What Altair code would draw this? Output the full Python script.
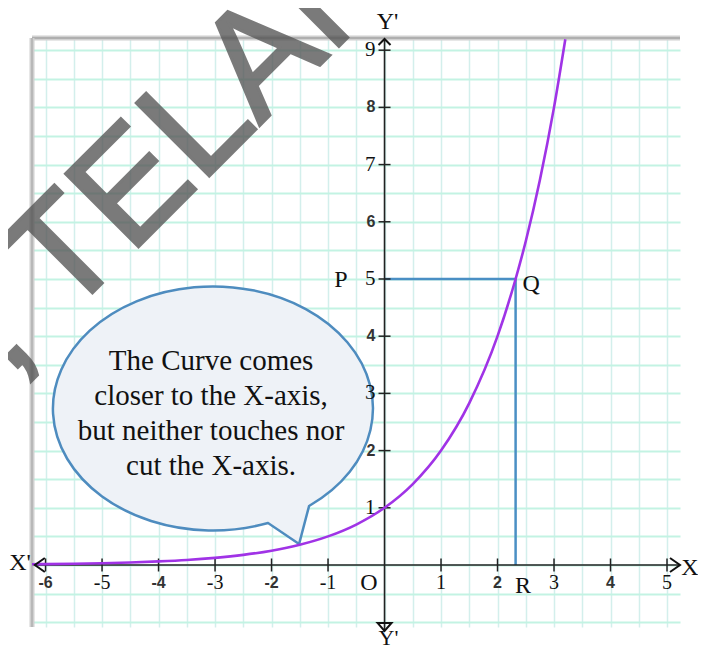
import altair as alt
import pandas as pd

# ---------------- data ----------------
X_DOMAIN = [-6.24, 5.23]
Y_DOMAIN = [-1.084, 9.213]

curve_x = [-6.24, -6, -5.5, -5, -4.5, -4, -3.5, -3, -2.5, -2, -1.5, -1, -0.5,
           0, 0.5, 1, 1.5, 2, 2.32, 2.5, 2.75, 3, 3.2]
curve_y = [0.013, 0.016, 0.022, 0.031, 0.044, 0.063, 0.088, 0.125, 0.177, 0.25,
           0.354, 0.5, 0.707, 1, 1.414, 2, 2.83, 4, 5, 5.66, 6.73, 8, 9.19]

grid_x = [-6, -5.5, -5, -4.5, -4, -3.5, -3, -2.5, -2, -1.5, -1, -0.5, 0, 0.5,
          1, 1.5, 2, 2.5, 3, 3.5, 4, 4.5, 5]
grid_y = [-1, -0.5, 0, 0.5, 1, 1.5, 2, 2.5, 3, 3.5, 4, 4.5, 5, 5.5, 6, 6.5,
          7, 7.5, 8, 8.5, 9]

x_ticks = [-6, -5, -4, -3, -2, -1, 1, 2, 3, 4, 5]
x_tick_labels = ["-6", "-5", "-4", "-3", "-2", "-1", "1", "2", "3", "4", "5"]
y_ticks = [1, 2, 3, 4, 5, 6, 7, 8, 9]
y_tick_labels = ["1", "2", "3", "4", "5", "6", "7", "8", "9"]

q_x = 2.32
q_y = 5
axis_x_ends = [-6.19, 5.23]
axis_y_ends = [-1.154, 9.196]

bubble_center = [-3.088, 2.71]
bubble_lines = ["The Curve comes", "closer to the X-axis,",
                "but neither touches nor", "cut the X-axis."]

watermark_text = ", TELANGANA"
watermark_at = [-6.667, 3.283]

# point labels: text, x, y, dx, dy, font size
point_labels = [
    ("P", 0, q_y, -43.5, 1, 24),
    ("Q", q_x, q_y, 15.5, 5, 24),
    ("R", q_x, 0, 7.5, 21, 24),
    ("O", 0, 0, -15.5, 18, 24),
    ("X'", X_DOMAIN[0], 0, -12, -2, 24),
    ("X", X_DOMAIN[1], 0, 10, 3, 24),
    ("Y'", 0, Y_DOMAIN[1], 3, -16, 24),
    ("Y'", 0, Y_DOMAIN[0], 4, 11, 22),
]

# ---------------- scales / shared encodings ----------------
xs = alt.Scale(domain=X_DOMAIN, nice=False, zero=False)
ys = alt.Scale(domain=Y_DOMAIN, nice=False, zero=False)
x_axis = alt.Axis(values=grid_x, grid=True, gridColor="#d3efec", gridWidth=1.5,
                  labels=False, ticks=False, domain=False, title=None)
y_axis = alt.Axis(values=grid_y, grid=True, gridColor="#c3f3e3", gridWidth=2,
                  labels=False, ticks=False, domain=False, title=None)


def X(f="x"):
    return alt.X(f"{f}:Q", scale=xs, axis=x_axis)


def Y(f="y"):
    return alt.Y(f"{f}:Q", scale=ys, axis=y_axis)


layers = []

# frame borders (top and left)
df_top = pd.DataFrame({"x": [X_DOMAIN[0]], "x2": [X_DOMAIN[1]], "y": [Y_DOMAIN[1]]})
df_left = pd.DataFrame({"x": [X_DOMAIN[0]], "y": [Y_DOMAIN[0]], "y2": [Y_DOMAIN[1]]})
layers.append(alt.Chart(df_top).mark_rule(color="#d0d0d0", strokeWidth=5).encode(
    x=X(), x2="x2:Q", y=Y()))
layers.append(alt.Chart(df_top).mark_rule(color="#8e8e8e", strokeWidth=1.2).encode(
    x=X(), x2="x2:Q", y=Y()))
layers.append(alt.Chart(df_left).mark_rule(color="#d0d0d0", strokeWidth=5).encode(
    x=X(), y=Y(), y2="y2:Q"))
layers.append(alt.Chart(df_left).mark_rule(color="#a8a8a8", strokeWidth=1.2).encode(
    x=X(), y=Y(), y2="y2:Q"))

# P-Q and Q-R guide lines
df_pq = pd.DataFrame({"x": [0], "x2": [q_x], "y": [q_y]})
df_qr = pd.DataFrame({"x": [q_x], "y": [0], "y2": [q_y]})
layers.append(alt.Chart(df_pq).mark_rule(color="#4a8fc4", strokeWidth=2.5).encode(
    x=X(), x2="x2:Q", y=Y()))
layers.append(alt.Chart(df_qr).mark_rule(color="#4a8fc4", strokeWidth=2.5).encode(
    x=X(), y=Y(), y2="y2:Q"))

# coordinate axes through the origin
df_xa = pd.DataFrame({"x": [axis_x_ends[0]], "x2": [axis_x_ends[1]], "y": [0]})
df_ya = pd.DataFrame({"x": [0], "y": [axis_y_ends[0]], "y2": [axis_y_ends[1]]})
layers.append(alt.Chart(df_xa).mark_rule(color="#222222", strokeWidth=1.6).encode(
    x=X(), x2="x2:Q", y=Y()))
layers.append(alt.Chart(df_ya).mark_rule(color="#222222", strokeWidth=1.6).encode(
    x=X(), y=Y(), y2="y2:Q"))

# tick crosses
df_xt = pd.DataFrame({"x": x_ticks, "y": [0] * len(x_ticks)})
df_yt = pd.DataFrame({"x": [0] * len(y_ticks), "y": y_ticks})
layers.append(alt.Chart(df_xt).mark_tick(orient="vertical", size=13, thickness=1.5,
                                         color="#222222", opacity=1).encode(x=X(), y=Y()))
layers.append(alt.Chart(df_yt).mark_tick(orient="horizontal", size=12, thickness=1.5,
                                         color="#222222", opacity=1).encode(x=X(), y=Y()))

# speech bubble (ellipse + tail as one custom symbol)
bubble_path = ("M0.6188,0.6 L0.5563,0.8375 L0.3625,0.7063 "
               "A1,0.7625 0 1 1 0.6188,0.6 Z")
df_b = pd.DataFrame({"x": [bubble_center[0]], "y": [bubble_center[1]]})
layers.append(alt.Chart(df_b).mark_point(shape=bubble_path, size=102400, filled=True,
                                         fill="#eef2f7", stroke="#4e8cbf",
                                         strokeWidth=2.5, opacity=1).encode(x=X(), y=Y()))

# the curve y = 2^x
df_curve = pd.DataFrame({"x": curve_x, "y": curve_y})
layers.append(alt.Chart(df_curve).mark_line(color="#a033e6", strokeWidth=2.6,
                                            interpolate="monotone").encode(x=X(), y=Y()))

# bubble text
layers.append(alt.Chart(df_b).mark_text(text=bubble_lines, lineHeight=35,
                                        font="Liberation Serif", fontSize=29,
                                        align="center", baseline="middle",
                                        color="#111111", dx=1, dy=-49).encode(x=X(), y=Y()))

# tick labels: odd numbers serif, even numbers bold sans
xl = pd.DataFrame({"x": x_ticks, "y": [0] * len(x_ticks), "label": x_tick_labels})
yl = pd.DataFrame({"x": [0] * len(y_ticks), "y": y_ticks, "label": y_tick_labels})
xl_even = xl[xl["x"] % 2 == 0]
xl_odd = xl[xl["x"] % 2 != 0]
yl_even = yl[yl["y"] % 2 == 0]
yl_odd = yl[yl["y"] % 2 != 0]
layers.append(alt.Chart(xl_odd).mark_text(font="Liberation Serif", fontSize=20,
                                          baseline="middle", dy=18, color="#111111").encode(
    x=X(), y=Y(), text="label:N"))
layers.append(alt.Chart(xl_even).mark_text(font="Liberation Sans", fontSize=16,
                                           fontWeight="bold", baseline="middle", dy=18,
                                           color="#333333").encode(
    x=X(), y=Y(), text="label:N"))
layers.append(alt.Chart(yl_odd).mark_text(font="Liberation Serif", fontSize=21,
                                          align="right", baseline="middle", dx=-9,
                                          color="#111111").encode(
    x=X(), y=Y(), text="label:N"))
layers.append(alt.Chart(yl_even).mark_text(font="Liberation Sans", fontSize=16,
                                           fontWeight="bold", align="right",
                                           baseline="middle", dx=-9, color="#333333").encode(
    x=X(), y=Y(), text="label:N"))

# letters P, Q, R, O, X', X, Y'
for txt, lx, ly, ddx, ddy, fs in point_labels:
    d = pd.DataFrame({"x": [lx], "y": [ly]})
    layers.append(alt.Chart(d).mark_text(text=txt, font="Liberation Serif", fontSize=fs,
                                         align="center", baseline="middle",
                                         dx=ddx, dy=ddy, color="#111111").encode(
        x=X(), y=Y()))

# arrow heads at the axis ends
arrows = [
    (0, axis_y_ends[1], "M-1,1 L0,0 L1,1", 144),
    (0, axis_y_ends[0], "M-1,-1.15 L0,0 L1,-1.15 Z", 196),
    (axis_x_ends[0], 0, "M1,-0.7 L0,0 L1,0.7", 400),
    (axis_x_ends[1], 0, "M-1,-0.7 L0,0 L-1,0.7", 400),
]
for ax_, ay_, path, sz in arrows:
    d = pd.DataFrame({"x": [ax_], "y": [ay_]})
    layers.append(alt.Chart(d).mark_point(shape=path, size=sz, filled=False,
                                          stroke="#111111", strokeWidth=2,
                                          opacity=1).encode(x=X(), y=Y()))

# watermark
df_wm = pd.DataFrame({"x": [watermark_at[0]], "y": [watermark_at[1]]})
layers.append(alt.Chart(df_wm).mark_text(text=watermark_text, angle=315, align="left",
                                         baseline="alphabetic", font="Liberation Sans",
                                         fontSize=150, color="#555555",
                                         stroke="#555555", strokeWidth=3,
                                         opacity=0.78).encode(x=X(), y=Y()))

chart = alt.layer(*layers).properties(
    width=648,
    height=589,
    padding={"left": 24, "top": 30, "right": 18, "bottom": 23},
    autosize=alt.AutoSizeParams(type="none"),
    background="white",
).configure_view(strokeWidth=0)

chart.save("out.html", embed_options={"renderer": "svg", "actions": False})
